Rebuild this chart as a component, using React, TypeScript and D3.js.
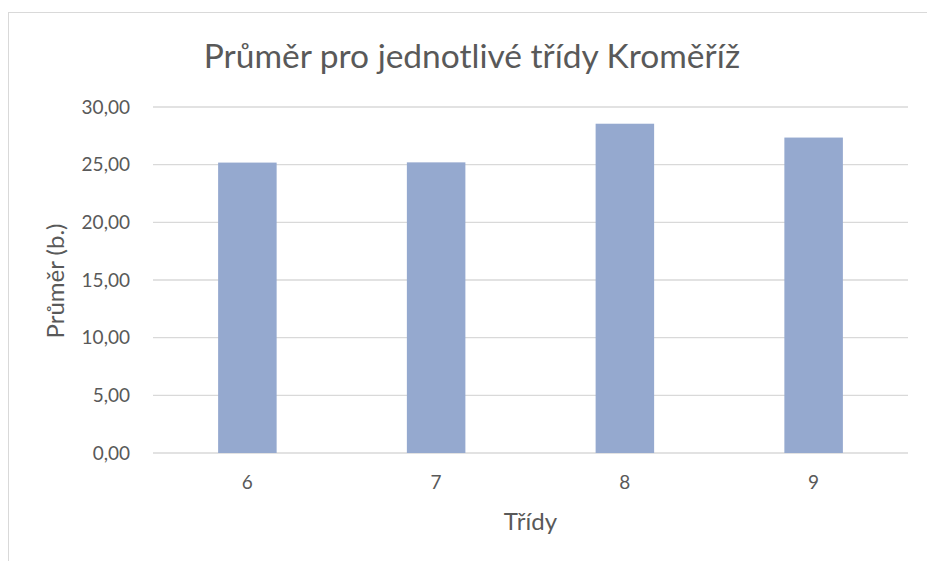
import React, { useEffect } from 'react';
import * as d3 from 'd3';

const title = 'Průměr pro jednotlivé třídy Kroměříž';
const xTitle = 'Třídy';
const yTitle = 'Průměr (b.)';
const classes = ['6', '7', '8', '9'];
const averages = [25.18, 25.2, 28.55, 27.35];
const yTicks = [0, 5, 10, 15, 20, 25, 30];

const W = 927, H = 561;
const left = 153, right = 908, top = 107, bottom = 453;
const font = 'Lato, "Noto Sans", sans-serif';
const textColor = '#595959';

function App() {
  useEffect(() => {
    document.body.style.margin = '0';
  }, []);

  const x = d3.scaleBand<string>().domain(classes).range([left, right]).paddingInner(0.69).paddingOuter(0.345);
  const y = d3.scaleLinear().domain([0, 30]).range([bottom, top]);
  const fmt = (v: number) => d3.format('.2f')(v).replace('.', ',');

  return (
    <svg width={W} height={H} style={{ display: 'block', background: '#fff' }}>
      {/* chart frame, runs off the right and bottom edges */}
      <rect x={8.5} y={12.5} width={940} height={580} fill="none" stroke="#d9d9d9" />

      <text x={472} y={68} textAnchor="middle" fontFamily={font} fontSize={33.5} fill={textColor}>
        {title}
      </text>

      {yTicks.map((t) => (
        <g key={t}>
          <line x1={left} x2={right} y1={y(t)} y2={y(t)} stroke="#d9d9d9" strokeWidth={1.3} />
          <text x={130} y={y(t)} dy="0.35em" textAnchor="end" fontFamily={font} fontSize={19} fill={textColor}>
            {fmt(t)}
          </text>
        </g>
      ))}

      {classes.map((c, i) => (
        <g key={c}>
          <rect
            x={x(c)}
            y={y(averages[i])}
            width={x.bandwidth()}
            height={y(0) - y(averages[i])}
            fill="#95a9cf"
          />
          <text x={x(c)! + x.bandwidth() / 2} y={489} textAnchor="middle" fontFamily={font} fontSize={19} fill={textColor}>
            {c}
          </text>
        </g>
      ))}

      <text x={(left + right) / 2} y={530} textAnchor="middle" fontFamily={font} fontSize={24} fill={textColor}>
        {xTitle}
      </text>
      <text
        transform={`translate(64,281) rotate(-90)`}
        textAnchor="middle"
        fontFamily={font}
        fontSize={24}
        fill={textColor}
      >
        {yTitle}
      </text>
    </svg>
  );
}

export default App;
